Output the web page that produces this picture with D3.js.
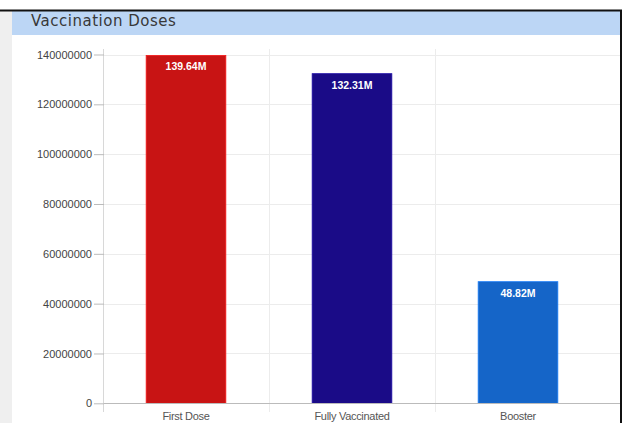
<!DOCTYPE html>
<html>
<head>
<meta charset="utf-8">
<script src="https://cdn.jsdelivr.net/npm/d3@7"></script>
<style>
  html, body { margin: 0; padding: 0; background: #fff; }
  svg { display: block; }
</style>
</head>
<body>
<div id="chart"></div>
<script>
// chart data
const categories = ["First Dose", "Fully Vaccinated", "Booster"];
const doses = [139640000, 132310000, 48820000];
const doseLabels = ["139.64M", "132.31M", "48.82M"];
const barColors = ["#c81414", "#1a0b87", "#1565c8"];
const yTicks = [0, 20000000, 40000000, 60000000, 80000000, 100000000, 120000000, 140000000];

const width = 626, height = 423;

const svg = d3.select("#chart").append("svg")
    .attr("width", width)
    .attr("height", height)

// page frame: grey side strip, black card border, blue header
svg.append("rect").attr("x", 0).attr("y", 11).attr("width", 12).attr("height", height - 11).attr("fill", "#efefef")
svg.append("rect").attr("x", 12).attr("y", 11).attr("width", 608).attr("height", 24).attr("fill", "#bcd6f5")
svg.append("line").attr("x1", 0).attr("x2", 622).attr("y1", 10.5).attr("y2", 10.5)
    .attr("stroke", "#111").attr("stroke-width", 2)
svg.append("line").attr("x1", 621).attr("x2", 621).attr("y1", 10).attr("y2", height)
    .attr("stroke", "#111").attr("stroke-width", 2)

svg.append("text")
    .attr("x", 31).attr("y", 26)
    .attr("font-family", "'DejaVu Sans', sans-serif")
    .attr("font-size", 15)
    .attr("letter-spacing", 0.5)
    .attr("fill", "#383838")
    .text("Vaccination Doses")

const x = d3.scaleBand()
    .domain(categories)
    .range([103, 601])
    .paddingInner(0.52)
    .paddingOuter(0.26)

const y = d3.scaleLinear()
    .domain([0, 140000000])
    .range([403.3, 54.5])

// horizontal grid
svg.append("g")
    .selectAll("line")
    .data(yTicks.slice(1))
    .enter().append("line")
    .attr("x1", 104).attr("x2", 620)
    .attr("y1", d => Math.round(y(d)) + 0.5)
    .attr("y2", d => Math.round(y(d)) + 0.5)
    .attr("stroke", "#ececec")

// vertical grid between categories
const step = x.step();
svg.append("g")
    .selectAll("line")
    .data(categories.slice(1))
    .enter().append("line")
    .attr("x1", d => Math.round(x(d) - x.paddingInner() * step / 2) + 0.5)
    .attr("x2", d => Math.round(x(d) - x.paddingInner() * step / 2) + 0.5)
    .attr("y1", 49).attr("y2", 412)
    .attr("stroke", "#ececec")

// left axis line
svg.append("line")
    .attr("x1", 103.5).attr("x2", 103.5)
    .attr("y1", 49).attr("y2", 412)
    .attr("stroke", "#d8d8d8")

// y axis
const yAxis = svg.append("g")
    .attr("transform", "translate(104,0)")
    .call(d3.axisLeft(y).tickValues(yTicks).tickFormat(d3.format("d")).tickSize(10).tickPadding(2))
yAxis.select(".domain").remove()
yAxis.selectAll(".tick line").attr("stroke", "#bbb")
yAxis.selectAll("text")
    .attr("font-family", "'Liberation Sans', Arial, sans-serif")
    .attr("font-size", 11)
    .attr("fill", "#444")

// bars
svg.append("g")
    .selectAll("rect")
    .data(categories)
    .enter().append("rect")
    .attr("x", d => x(d))
    .attr("y", (d, i) => y(doses[i]))
    .attr("width", x.bandwidth())
    .attr("height", (d, i) => y(0) - y(doses[i]))
    .attr("fill", (d, i) => barColors[i])
    .attr("stroke", (d, i) => d3.color(barColors[i]).brighter(0.6))
    .attr("stroke-width", 0.8)

// bar value labels
svg.append("g")
    .selectAll("text")
    .data(categories)
    .enter().append("text")
    .attr("x", d => x(d) + x.bandwidth() / 2)
    .attr("y", (d, i) => y(doses[i]) + 15)
    .attr("text-anchor", "middle")
    .attr("font-family", "'Liberation Sans', Arial, sans-serif")
    .attr("font-size", 10.5)
    .attr("font-weight", "bold")
    .attr("fill", "#fff")
    .text((d, i) => doseLabels[i])

// x axis baseline
svg.append("line")
    .attr("x1", 104).attr("x2", 620)
    .attr("y1", 403.5).attr("y2", 403.5)
    .attr("stroke", "#bbb")

// x labels
const xAxis = svg.append("g")
    .attr("transform", "translate(0,403)")
    .call(d3.axisBottom(x).tickSize(0).tickPadding(9))
xAxis.select(".domain").remove()
xAxis.selectAll("text")
    .attr("font-family", "'Liberation Sans', Arial, sans-serif")
    .attr("font-size", 11)
    .attr("letter-spacing", -0.3)
    .attr("fill", "#555")
</script>
</body>
</html>
